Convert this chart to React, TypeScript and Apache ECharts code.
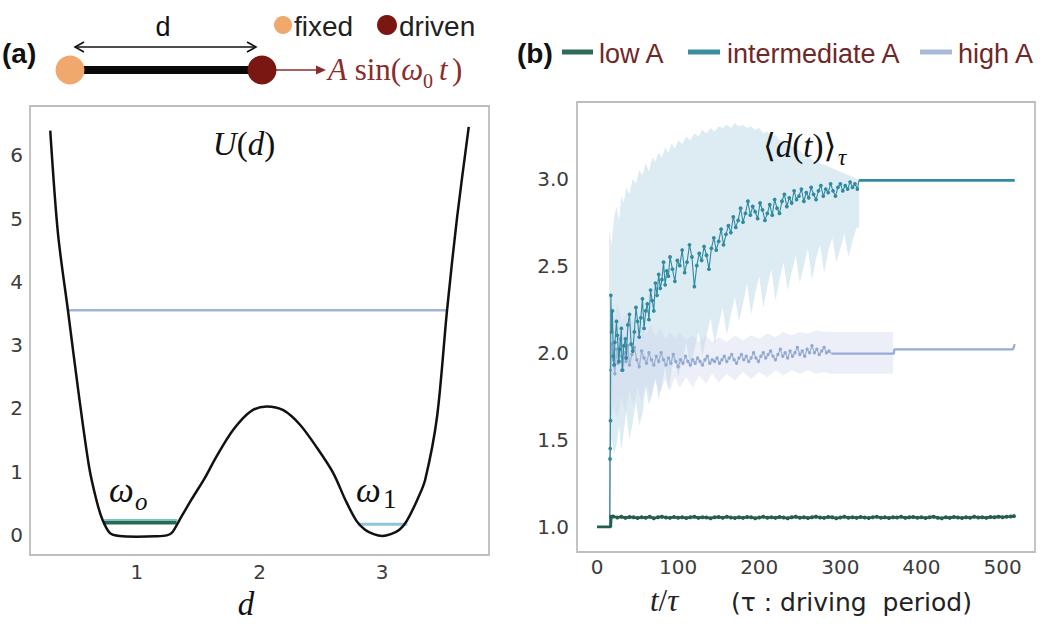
import React, { useEffect, useRef } from "react";
import * as echarts from "echarts";

// ---------- Panel (a): double-well potential U(d) ----------
const potential: [number, number][] = [
  [0.295, 6.39], [0.358, 4.76], [0.439, 3.55], [0.526, 2.24], [0.611, 1.08],
  [0.671, 0.55], [0.72, 0.24], [0.78, 0.03], [0.86, -0.02], [1.0, -0.03],
  [1.15, -0.025], [1.245, -0.01], [1.29, 0.04], [1.35, 0.24], [1.45, 0.57],
  [1.555, 0.9], [1.65, 1.24], [1.786, 1.66], [1.927, 1.95], [2.059, 2.03],
  [2.194, 1.97], [2.33, 1.74], [2.467, 1.38], [2.6, 0.98], [2.7, 0.55],
  [2.79, 0.22], [2.86, 0.08], [2.93, 0.01], [3.0, -0.02], [3.07, 0.01],
  [3.14, 0.08], [3.2, 0.22], [3.285, 0.55], [3.35, 0.87], [3.447, 1.87],
  [3.528, 3.55], [3.61, 5.02], [3.705, 6.45],
];
const levelHigh: [number, number][] = [[0.44, 3.55], [3.53, 3.55]];
const levelLowLeft: [number, number][] = [[0.725, 0.19], [1.325, 0.19]];
const levelInterLeft: [number, number][] = [[0.735, 0.235], [1.33, 0.235]];
const levelRight: [number, number][] = [[2.8, 0.165], [3.205, 0.165]];
const xTicksA = [1, 2, 3];
const yTicksA = [0, 1, 2, 3, 4, 5, 6];

// ---------- Panel (b): <d(t)>_tau ----------
const xTicksB = [0, 100, 200, 300, 400, 500];
const yTicksB = [1.0, 1.5, 2.0, 2.5, 3.0];

const lowA: [number, number][] = [
  [0, 1.0], [17, 1.0], [17.5, 1.058], [20, 1.06], [25, 1.054], [30, 1.058], [35, 1.052], [40, 1.057],
  [45, 1.055], [50, 1.051], [55, 1.056], [60, 1.053], [65, 1.058], [70, 1.05], [75, 1.055], [80, 1.059],
  [85, 1.054], [90, 1.052], [95, 1.057], [100, 1.053], [105, 1.056], [110, 1.051], [115, 1.055],
  [120, 1.058], [125, 1.052], [130, 1.056], [135, 1.054], [140, 1.05], [145, 1.055], [150, 1.057],
  [155, 1.053], [160, 1.058], [165, 1.054], [170, 1.051], [175, 1.056], [180, 1.052], [185, 1.057],
  [190, 1.055], [195, 1.05], [200, 1.054], [205, 1.058], [210, 1.053], [215, 1.056], [220, 1.052],
  [225, 1.057], [230, 1.054], [235, 1.05], [240, 1.055], [245, 1.058], [250, 1.053], [255, 1.056],
  [260, 1.051], [265, 1.055], [270, 1.059], [275, 1.054], [280, 1.052], [285, 1.057], [290, 1.055],
  [295, 1.05], [300, 1.054], [305, 1.058], [310, 1.053], [315, 1.056], [320, 1.052], [325, 1.057],
  [330, 1.054], [335, 1.051], [340, 1.056], [345, 1.058], [350, 1.053], [355, 1.055], [360, 1.051],
  [365, 1.056], [370, 1.054], [375, 1.058], [380, 1.052], [385, 1.055], [390, 1.057], [395, 1.053],
  [400, 1.056], [405, 1.051], [410, 1.055], [415, 1.058], [420, 1.053], [425, 1.05], [430, 1.055],
  [435, 1.052], [440, 1.057], [445, 1.054], [450, 1.051], [455, 1.056], [460, 1.053], [465, 1.058],
  [470, 1.054], [475, 1.056], [480, 1.052], [485, 1.057], [490, 1.055], [495, 1.059], [500, 1.056],
  [505, 1.058], [510, 1.06], [514, 1.062],
];

const intermediateA: [number, number][] = [
  [0, 1.0], [15.5, 1.0], [16, 1.39], [16.3, 1.45], [16.6, 1.61], [17, 2.33], [18, 2.12], [19, 2.24],
  [20, 1.98], [21, 1.93], [22, 2.06], [24, 2.18], [25, 2.1], [27, 1.95], [28, 2.02], [30, 2.14],
  [31, 1.9], [33, 2.04], [35, 2.08], [36, 1.97], [38, 2.16], [40, 2.22], [42, 2.05], [44, 2.01],
  [46, 2.12], [48, 2.26], [50, 2.18], [52, 2.09], [54, 2.2], [56, 2.31], [58, 2.14], [60, 2.24],
  [62, 2.28], [64, 2.19], [66, 2.36], [68, 2.3], [70, 2.24], [72, 2.4], [74, 2.33], [76, 2.45],
  [78, 2.37], [80, 2.42], [82, 2.52], [84, 2.39], [86, 2.47], [88, 2.44], [90, 2.55], [93, 2.48],
  [96, 2.41], [99, 2.53], [102, 2.5], [105, 2.59], [108, 2.46], [111, 2.52], [114, 2.62], [117, 2.55],
  [120, 2.38], [123, 2.5], [126, 2.57], [129, 2.53], [132, 2.61], [135, 2.56], [138, 2.48], [141, 2.6],
  [144, 2.66], [147, 2.59], [150, 2.64], [153, 2.71], [156, 2.62], [159, 2.68], [162, 2.73], [165, 2.69],
  [168, 2.78], [171, 2.72], [174, 2.76], [177, 2.83], [180, 2.75], [183, 2.8], [186, 2.87], [189, 2.79],
  [192, 2.84], [195, 2.81], [198, 2.77], [201, 2.86], [204, 2.82], [207, 2.76], [210, 2.8], [213, 2.85],
  [216, 2.79], [219, 2.88], [222, 2.83], [225, 2.8], [228, 2.87], [231, 2.91], [234, 2.84], [237, 2.89],
  [240, 2.86], [243, 2.93], [246, 2.88], [249, 2.9], [252, 2.94], [255, 2.87], [258, 2.92], [261, 2.89],
  [264, 2.95], [267, 2.91], [270, 2.88], [273, 2.93], [276, 2.96], [279, 2.9], [282, 2.94], [285, 2.92],
  [288, 2.97], [291, 2.93], [294, 2.9], [297, 2.95], [300, 2.97], [303, 2.93], [306, 2.96], [309, 2.94],
  [312, 2.98], [315, 2.95], [318, 2.97], [321, 2.94], [323, 2.99],
];
const intermediateAFlat: [number, number][] = [[323, 2.99], [515, 2.99]];

const highA: [number, number][] = [
  [16, 1.0], [16.5, 1.9], [18, 2.05], [20, 1.96], [22, 1.88], [24, 2.02], [26, 1.94], [28, 2.08],
  [30, 1.98], [32, 1.9], [34, 2.0], [36, 1.95], [38, 2.04], [40, 1.93], [43, 1.99], [46, 2.03],
  [49, 1.96], [52, 1.92], [55, 2.01], [58, 1.97], [61, 1.94], [64, 2.0], [67, 1.96], [70, 1.93],
  [73, 1.98], [76, 1.95], [79, 2.0], [82, 1.96], [85, 1.93], [88, 1.97], [91, 1.94], [94, 1.99],
  [97, 1.95], [100, 1.92], [103, 1.96], [106, 1.94], [109, 1.98], [112, 1.95], [115, 1.93], [118, 1.96],
  [121, 1.94], [124, 1.97], [127, 1.95], [130, 1.93], [133, 1.96], [136, 1.98], [139, 1.94], [142, 1.96],
  [145, 1.95], [148, 1.97], [151, 1.94], [154, 1.96], [157, 1.98], [160, 1.95], [163, 1.97], [166, 1.99],
  [169, 1.96], [172, 1.94], [175, 1.97], [178, 1.99], [181, 1.96], [184, 1.98], [187, 1.95], [190, 1.97],
  [193, 2.0], [196, 1.97], [199, 1.95], [202, 1.98], [205, 2.0], [208, 1.97], [211, 1.99], [214, 2.01],
  [217, 1.98], [220, 1.96], [223, 1.99], [226, 2.02], [229, 1.98], [232, 2.0], [235, 1.97], [238, 2.01],
  [241, 1.98], [244, 2.0], [247, 2.03], [250, 1.99], [253, 2.01], [256, 1.98], [259, 2.02], [262, 2.0],
  [265, 2.04], [268, 2.0], [271, 2.02], [274, 1.99], [277, 2.01], [280, 2.03], [283, 2.0], [286, 2.01],
  [289, 1.995],
];
const highAFlat: [number, number][] = [[289, 1.995], [366, 1.995], [366.5, 2.02], [513, 2.02], [515, 2.05]];

// spread bands (t, lower, upper)
const bandInterT = [
  15, 18, 21, 24, 27, 30, 33, 36, 40, 44, 48, 52, 56, 60, 64, 68, 72, 76, 80, 84, 88, 92, 96, 100,
  105, 110, 115, 120, 125, 130, 135, 140, 145, 150, 155, 160, 165, 170, 175, 180, 185, 190, 195, 200,
  205, 210, 215, 220, 225, 230, 235, 240, 245, 250, 255, 260, 265, 270, 275, 280, 285, 290, 295, 300,
  305, 310, 315, 320, 323,
];
const bandInterLo = [
  1.38, 1.5, 1.42, 1.47, 1.58, 1.44, 1.55, 1.66, 1.5, 1.6, 1.72, 1.58, 1.65, 1.8, 1.7, 1.76, 1.86, 1.73,
  1.82, 1.92, 1.78, 1.9, 1.98, 1.86, 1.95, 2.06, 1.9, 2.02, 2.12, 1.98, 2.1, 2.2, 2.05, 2.16, 2.26, 2.1,
  2.22, 2.32, 2.18, 2.28, 2.4, 2.22, 2.34, 2.44, 2.26, 2.38, 2.48, 2.3, 2.42, 2.52, 2.36, 2.46, 2.56, 2.4,
  2.5, 2.6, 2.42, 2.54, 2.62, 2.46, 2.58, 2.66, 2.52, 2.6, 2.68, 2.55, 2.64, 2.72, 2.72,
];
const bandInterHi = [
  2.7, 2.62, 2.78, 2.84, 2.76, 2.9, 2.86, 2.95, 2.91, 3.0, 2.97, 3.05, 3.02, 3.09, 3.04, 3.12, 3.1, 3.15,
  3.12, 3.18, 3.15, 3.2, 3.17, 3.22, 3.2, 3.24, 3.22, 3.26, 3.24, 3.28, 3.26, 3.29, 3.27, 3.3, 3.29, 3.31,
  3.29, 3.32, 3.3, 3.31, 3.29, 3.3, 3.28, 3.29, 3.26, 3.27, 3.24, 3.25, 3.22, 3.22, 3.2, 3.19, 3.17, 3.16,
  3.14, 3.13, 3.11, 3.1, 3.09, 3.08, 3.07, 3.06, 3.05, 3.04, 3.03, 3.02, 3.01, 3.0, 3.0,
];
const bandHighT = [
  15, 20, 25, 30, 35, 40, 45, 50, 55, 60, 66, 72, 78, 84, 90, 96, 102, 110, 118, 126, 134, 142, 150,
  160, 170, 180, 190, 200, 210, 220, 230, 240, 250, 260, 270, 280, 288, 365,
];
const bandHighLo = [
  1.55, 1.7, 1.62, 1.75, 1.66, 1.78, 1.7, 1.8, 1.72, 1.82, 1.75, 1.84, 1.77, 1.85, 1.78, 1.86, 1.8,
  1.86, 1.8, 1.87, 1.82, 1.88, 1.83, 1.88, 1.84, 1.89, 1.85, 1.89, 1.86, 1.9, 1.87, 1.9, 1.88, 1.9,
  1.88, 1.89, 1.88, 1.88,
];
const bandHighHi = [
  2.25, 2.15, 2.28, 2.18, 2.22, 2.15, 2.2, 2.12, 2.18, 2.1, 2.16, 2.1, 2.14, 2.08, 2.12, 2.08, 2.12,
  2.07, 2.1, 2.06, 2.1, 2.06, 2.09, 2.06, 2.1, 2.07, 2.1, 2.08, 2.11, 2.09, 2.12, 2.1, 2.12, 2.11,
  2.13, 2.12, 2.12, 2.12,
];

const SERIF = '"Liberation Serif", "DejaVu Serif", serif';
const SANS = '"Liberation Sans", Arial, sans-serif';
const TICK = '"DejaVu Sans", sans-serif';
const C_LOW = "#245f48";
const C_INT = "#2f8aa2";
const C_HIGH = "#a2b5d6";
const C_LEG_TXT = "#6f2828";
const C_DRIVE = "#8a2c2c";

function bandRenderer(t: number[], lo: number[], hi: number[], fill: string) {
  return (params: any, api: any) => {
    if (params.dataIndex !== 0) return null;
    const pts: number[][] = [];
    for (let i = 0; i < t.length; i++) pts.push(api.coord([t[i], hi[i]]));
    for (let i = t.length - 1; i >= 0; i--) pts.push(api.coord([t[i], lo[i]]));
    return { type: "polygon", shape: { points: pts }, style: { fill } };
  };
}

function txt(x: number, y: number, text: string, font: any, extra: any = {}) {
  return {
    type: "text",
    x,
    y,
    z: 100,
    style: {
      text,
      fill: "#111",
      verticalAlign: "middle",
      align: "left",
      ...font,
      ...extra,
    },
  };
}

const italic = (size: number, fill = "#111") => ({
  fontStyle: "italic",
  fontFamily: SERIF,
  fontSize: size,
  fill,
});

export default function App() {
  const ref = useRef<HTMLDivElement>(null);
  useEffect(() => {
    if (!ref.current) return;
    const chart = echarts.init(ref.current, null, { renderer: "svg" });

    const axisCommon = {
      type: "value",
      axisLine: { show: false },
      axisTick: { show: false },
      splitLine: { show: false },
    };
    const labelStyle = { fontSize: 20, color: "#3c3c3c", fontFamily: TICK };

    const graphic: any[] = [
      // ---------- (a) schematic ----------
      txt(2, 53, "(a)", { fontFamily: SANS, fontSize: 28, fontWeight: "bold" }),
      txt(163, 27, "d", { fontFamily: SANS, fontSize: 27 }, { align: "center" }),
      { type: "line", z: 100, shape: { x1: 75, y1: 47, x2: 256, y2: 47 }, style: { stroke: "#111", lineWidth: 1.6 } },
      { type: "polyline", z: 100, shape: { points: [[84, 42], [75, 47], [84, 52]] }, style: { stroke: "#111", lineWidth: 1.6, fill: "none" } },
      { type: "polyline", z: 100, shape: { points: [[247, 42], [256, 47], [247, 52]] }, style: { stroke: "#111", lineWidth: 1.6, fill: "none" } },
      { type: "rect", z: 100, shape: { x: 72, y: 66, width: 186, height: 8 }, style: { fill: "#0a0a0a" } },
      { type: "circle", z: 101, shape: { cx: 70, cy: 70, r: 14.5 }, style: { fill: "#f0a86c" } },
      { type: "circle", z: 101, shape: { cx: 262, cy: 70, r: 14.5 }, style: { fill: "#7a1712" } },
      { type: "line", z: 100, shape: { x1: 276, y1: 70, x2: 320, y2: 70 }, style: { stroke: C_DRIVE, lineWidth: 1.6 } },
      { type: "polygon", z: 100, shape: { points: [[316, 65.5], [326, 70], [316, 74.5]] }, style: { fill: C_DRIVE } },
      {
        type: "text", x: 328, y: 69, z: 100,
        style: {
          text: "{i|A} sin({i|ω}",
          fontFamily: SERIF, fontSize: 31, fill: C_DRIVE, verticalAlign: "middle", align: "left",
          rich: { i: italic(31, C_DRIVE) },
        },
      },
      txt(423, 81, "0", { fontFamily: SERIF, fontSize: 20, fill: C_DRIVE }),
      txt(439, 69, "t", italic(31, C_DRIVE)),
      txt(452, 69, ")", { fontFamily: SERIF, fontSize: 31, fill: C_DRIVE }),
      { type: "circle", z: 100, shape: { cx: 283, cy: 25, r: 9 }, style: { fill: "#f0a86c" } },
      txt(294, 26, "fixed", { fontFamily: SANS, fontSize: 28, fill: "#222" }),
      { type: "circle", z: 100, shape: { cx: 387, cy: 25, r: 10 }, style: { fill: "#7a1712" } },
      txt(399, 26, "driven", { fontFamily: SANS, fontSize: 28, fill: "#222" }),

      // ---------- (a) plot annotations ----------
      {
        type: "text", x: 244, y: 144, z: 100,
        style: {
          text: "{i|U}({i|d})",
          fontFamily: SERIF, fontSize: 33, fill: "#111", verticalAlign: "middle", align: "center",
          rich: { i: italic(33) },
        },
      },
      txt(109, 490, "ω", italic(35)),
      txt(135, 501, "o", italic(25)),
      txt(356, 490, "ω", italic(35)),
      txt(383, 499, "1", { fontFamily: SERIF, fontSize: 27 }),
      txt(246, 604, "d", italic(33), { align: "center" }),

      // ---------- (b) legend ----------
      txt(517, 53, "(b)", { fontFamily: SANS, fontSize: 28, fontWeight: "bold" }),
      { type: "line", z: 100, shape: { x1: 562, y1: 52, x2: 593, y2: 52 }, style: { stroke: "#2e6b55", lineWidth: 5 } },
      txt(599, 54, "low A", { fontFamily: SANS, fontSize: 27, fill: C_LEG_TXT }),
      { type: "line", z: 100, shape: { x1: 688, y1: 52, x2: 720, y2: 52 }, style: { stroke: "#3c8d9c", lineWidth: 5 } },
      txt(727, 54, "intermediate A", { fontFamily: SANS, fontSize: 27, fill: C_LEG_TXT }),
      { type: "line", z: 100, shape: { x1: 920, y1: 52, x2: 952, y2: 52 }, style: { stroke: "#a9bad6", lineWidth: 5 } },
      txt(958, 54, "high A", { fontFamily: SANS, fontSize: 27, fill: C_LEG_TXT }),

      // ---------- (b) plot annotations ----------
      {
        type: "text", x: 763, y: 146, z: 100,
        style: {
          text: "⟨{i|d}({i|t})⟩",
          fontFamily: SERIF, fontSize: 33, fill: "#111", verticalAlign: "middle", align: "left",
          rich: { i: italic(33) },
        },
      },
      txt(838, 157, "τ", italic(23)),
      {
        type: "text", x: 650, y: 600, z: 100,
        style: {
          text: "{i|t}/{i|τ}",
          fontFamily: SERIF, fontSize: 31, fill: "#222", verticalAlign: "middle", align: "left",
          rich: { i: italic(31, "#222") },
        },
      },
      txt(731, 602, "(τ : driving  period)", { fontFamily: '"DejaVu Sans", sans-serif', fontSize: 25, fill: "#222" }),
    ];

    const option: any = {
      animation: false,
      backgroundColor: "#ffffff",
      grid: [
        { left: 30, top: 106, width: 459, height: 449, show: true, borderColor: "#bdbdbd", borderWidth: 1.8, backgroundColor: "transparent" },
        { left: 577, top: 102, width: 458, height: 450, show: true, borderColor: "#bdbdbd", borderWidth: 1.8, backgroundColor: "transparent" },
      ],
      xAxis: [
        { ...axisCommon, gridIndex: 0, min: 0.13, max: 3.87, axisLabel: { ...labelStyle, margin: 7, customValues: xTicksA } },
        { ...axisCommon, gridIndex: 1, min: -24.7, max: 540, axisLabel: { ...labelStyle, margin: 5, customValues: xTicksB } },
      ],
      yAxis: [
        { ...axisCommon, gridIndex: 0, min: -0.32, max: 6.78, axisLabel: { ...labelStyle, margin: 7, customValues: yTicksA } },
        {
          ...axisCommon, gridIndex: 1, min: 0.856, max: 3.44,
          axisLabel: { ...labelStyle, margin: 8, customValues: yTicksB, formatter: (v: number) => v.toFixed(1) },
        },
      ],
      graphic,
      series: [
        {
          type: "line", xAxisIndex: 0, yAxisIndex: 0, data: levelHigh, symbol: "none",
          lineStyle: { color: C_HIGH, width: 2.6 }, z: 2,
        },
        {
          type: "line", xAxisIndex: 0, yAxisIndex: 0, data: levelInterLeft, symbol: "none",
          lineStyle: { color: "#7cc3c9", width: 2 }, z: 2,
        },
        {
          type: "line", xAxisIndex: 0, yAxisIndex: 0, data: levelLowLeft, symbol: "none",
          lineStyle: { color: "#2a6a50", width: 3.5 }, z: 3,
        },
        {
          type: "line", xAxisIndex: 0, yAxisIndex: 0, data: levelRight, symbol: "none",
          lineStyle: { color: "#8cc6da", width: 3 }, z: 2,
        },
        {
          type: "line", xAxisIndex: 0, yAxisIndex: 0, data: potential, symbol: "none", smooth: 0.3,
          lineStyle: { color: "#111", width: 2.5 }, z: 4,
        },
        {
          type: "custom", xAxisIndex: 1, yAxisIndex: 1, silent: true, z: 1,
          data: bandInterT.map((t, i) => [t, bandInterLo[i], bandInterHi[i]]),
          encode: { x: 0, y: [1, 2] },
          renderItem: bandRenderer(bandInterT, bandInterLo, bandInterHi, "rgba(160,200,220,0.36)"),
        },
        {
          type: "custom", xAxisIndex: 1, yAxisIndex: 1, silent: true, z: 1,
          data: bandHighT.map((t, i) => [t, bandHighLo[i], bandHighHi[i]]),
          encode: { x: 0, y: [1, 2] },
          renderItem: bandRenderer(bandHighT, bandHighLo, bandHighHi, "rgba(200,208,234,0.35)"),
        },
        {
          type: "line", xAxisIndex: 1, yAxisIndex: 1, data: highA, z: 3,
          showAllSymbol: true,
          symbol: (v: number[]) => (v[0] > 288 || v[0] < 16.2 ? "none" : "circle"),
          symbolSize: 3.4,
          itemStyle: { color: "#93a9d0" },
          lineStyle: { color: C_HIGH, width: 1.3 },
        },
        {
          type: "line", xAxisIndex: 1, yAxisIndex: 1, data: highAFlat, z: 3, symbol: "none",
          lineStyle: { color: "#97acd2", width: 2.2 },
        },
        {
          type: "line", xAxisIndex: 1, yAxisIndex: 1, data: intermediateA, z: 4,
          showAllSymbol: true,
          symbol: (v: number[]) => (v[0] > 322 || v[0] < 15.8 ? "none" : "circle"),
          symbolSize: 3.8,
          itemStyle: { color: C_INT },
          lineStyle: { color: C_INT, width: 1.1 },
        },
        {
          type: "line", xAxisIndex: 1, yAxisIndex: 1, data: intermediateAFlat, z: 4, symbol: "none",
          lineStyle: { color: C_INT, width: 2.6 },
        },
        {
          type: "line", xAxisIndex: 1, yAxisIndex: 1, data: lowA, z: 5,
          showAllSymbol: true,
          symbol: (v: number[]) => (v[0] < 17.2 ? "none" : "circle"),
          symbolSize: 4,
          itemStyle: { color: C_LOW },
          lineStyle: { color: C_LOW, width: 2.6 },
        },
      ],
    };
    chart.setOption(option);
    return () => chart.dispose();
  }, []);

  return (
    <div
      ref={ref}
      style={{ position: "absolute", left: 0, top: 0, width: 1047, height: 626, background: "#fff" }}
    />
  );
}
